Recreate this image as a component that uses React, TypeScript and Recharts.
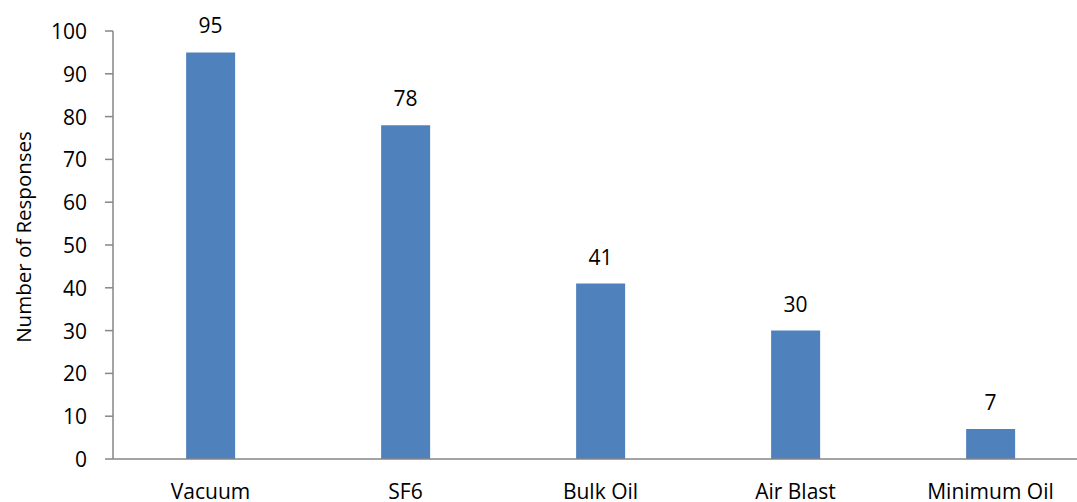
import { BarChart, Bar, XAxis, YAxis, LabelList } from "recharts";

const categories = ["Vacuum", "SF6", "Bulk Oil", "Air Blast", "Minimum Oil"];
const responses = [95, 78, 41, 30, 7];
const yTicks = [0, 10, 20, 30, 40, 50, 60, 70, 80, 90, 100];

const data = categories.map((name, i) => ({ name, responses: responses[i] }));

const FONT = "'Open Sans', sans-serif";
const AXIS = "#868686";
const BAR = "#4F81BD";

function YTick({ x, y, payload }: any) {
  return (
    <text x={x - 2} y={y} textAnchor="end" dominantBaseline="central"
      fontFamily={FONT} fontSize={21} fill="#000">
      {payload.value}
    </text>
  );
}

// labels sit low, the reference crops them at the bottom edge
function XTick({ x, y, payload }: any) {
  return (
    <text x={x} y={y + 40} textAnchor="middle"
      fontFamily={FONT} fontSize={21} fill="#000">
      {payload.value}
    </text>
  );
}

function ValueLabel({ x, y, width, value }: any) {
  return (
    <text x={x + width / 2} y={y - 19} textAnchor="middle"
      fontFamily={FONT} fontSize={21} fill="#000">
      {value}
    </text>
  );
}

function YTitle() {
  const cx = 23;
  const cy = 237;
  return (
    <text x={cx} y={cy} transform={`rotate(-90, ${cx}, ${cy})`} textAnchor="middle"
      dominantBaseline="central" fontFamily={FONT} fontSize={20.5} fill="#000">
      Number of Responses
    </text>
  );
}

export default function App() {
  return (
    <div style={{ position: "fixed", left: 0, top: 0, width: 1077, height: 502, overflow: "hidden", background: "#fff" }}>
      <BarChart width={1100} height={502} data={data}
        margin={{ top: 31, right: 12, bottom: 0, left: 0 }} barCategoryGap="37.5%">
        <XAxis dataKey="name" height={43} tickLine={false} tickSize={0} tickMargin={0}
          stroke={AXIS} strokeWidth={1.5} tick={<XTick />} interval={0} />
        <YAxis width={113} domain={[0, 100]} ticks={yTicks} interval={0}
          tickSize={8} tickMargin={16} stroke={AXIS} strokeWidth={1.5}
          tick={<YTick />} label={<YTitle />} />
        <Bar dataKey="responses" fill={BAR} isAnimationActive={false}>
          <LabelList dataKey="responses" content={<ValueLabel />} />
        </Bar>
      </BarChart>
    </div>
  );
}
